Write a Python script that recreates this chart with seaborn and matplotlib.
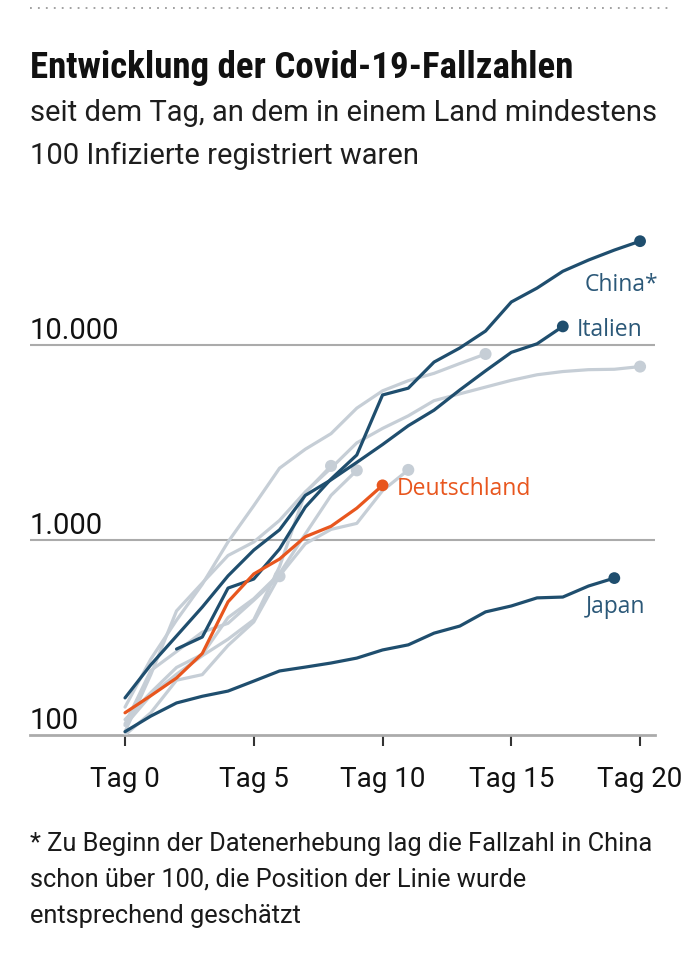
import numpy as np
import pandas as pd
import matplotlib
matplotlib.use("Agg")
import matplotlib.pyplot as plt
import matplotlib.transforms as mtransforms
from matplotlib.lines import Line2D
import seaborn as sns

# ---------------- data ----------------
china_days = list(range(2, 21))
china_cases = [276, 318, 567, 631, 900, 1475, 2055, 2730, 5545, 6010, 8180,
               9660, 11800, 16630, 19600, 23900, 27300, 30700, 34100]

italien_days = list(range(0, 18))
italien_cases = [155, 229, 322, 453, 655, 888, 1128, 1694, 2036, 2502, 3089,
                 3858, 4636, 5883, 7375, 9172, 10149, 12462]

japan_days = list(range(0, 20))
japan_cases = [104, 125, 146, 158, 168, 189, 213, 223, 234, 248, 273, 290,
               333, 362, 428, 459, 505, 510, 581, 638]

deutschland_days = list(range(0, 11))
deutschland_cases = [130, 159, 196, 262, 482, 670, 799, 1040, 1176, 1457, 1908]

korea_days = list(range(0, 21))
korea_cases = [104, 204, 433, 602, 833, 977, 1261, 1766, 2337, 3150, 3736,
               4335, 5186, 5621, 6088, 6593, 7041, 7314, 7478, 7513, 7755]

iran_days = list(range(0, 15))
iran_cases = [139, 245, 388, 593, 978, 1501, 2336, 2922, 3513, 4747, 5823,
              6566, 7161, 8042, 9000]

frankreich_days = list(range(0, 12))
frankreich_cases = [100, 130, 191, 204, 288, 380, 656, 957, 1134, 1217, 1792, 2289]

spanien_days = list(range(0, 10))
spanien_cases = [120, 165, 222, 259, 400, 500, 673, 1073, 1695, 2277]

land_x_days = list(range(0, 9))
land_x_cases = [112, 160, 205, 255, 310, 390, 730, 1750, 2400]

schweiz_days = list(range(0, 7))
schweiz_cases = [114, 214, 268, 337, 374, 491, 652]

x_ticks = [0, 5, 10, 15, 20]
x_tick_labels = ["Tag 0", "Tag 5", "Tag 10", "Tag 15", "Tag 20"]
y_levels = [100, 1000, 10000]
y_labels = ["100", "1.000", "10.000"]

highlight_names = ["Japan", "Italien", "China", "Deutschland"]
label_texts = {"China": "China*", "Italien": "Italien",
               "Deutschland": "Deutschland", "Japan": "Japan"}

series = {
    "Südkorea": (korea_days, korea_cases),
    "Iran": (iran_days, iran_cases),
    "Frankreich": (frankreich_days, frankreich_cases),
    "Spanien": (spanien_days, spanien_cases),
    "Land X": (land_x_days, land_x_cases),
    "Schweiz": (schweiz_days, schweiz_cases),
    "Japan": (japan_days, japan_cases),
    "Italien": (italien_days, italien_cases),
    "China": (china_days, china_cases),
    "Deutschland": (deutschland_days, deutschland_cases),
}

rows = []
for name, (d, c) in series.items():
    for di, ci in zip(d, c):
        rows.append({"land": name, "tag": di, "faelle": ci,
                     "hervor": name in highlight_names})
df = pd.DataFrame(rows)

# ---------------- style ----------------
DARK = "#1f4e6e"
DARK_TXT = "#2b5878"
ORANGE = "#e8561e"
GREY = "#c6ced6"
GRID = "#ababab"

palette = {"Japan": DARK, "Italien": DARK, "China": DARK, "Deutschland": ORANGE}
text_colors = {"China": DARK_TXT, "Italien": DARK_TXT, "Japan": DARK_TXT,
               "Deutschland": ORANGE}

sns.set_theme(style="white")
NARROW = ["Roboto", "DejaVu Sans"]
LABELF = ["Open Sans", "DejaVu Sans"]
TITLEF = ["Roboto Condensed", "Roboto", "DejaVu Sans"]
plt.rcParams["font.family"] = NARROW

fig = plt.figure(figsize=(7.0, 9.6), dpi=100)
H = 960.0
W = 700.0

ax_left, ax_right = 30 / W, 655 / W
ax_bottom, ax_top = 1 - 735 / H, 1 - 200 / H
ax = fig.add_axes([ax_left, ax_bottom, ax_right - ax_left, ax_top - ax_bottom])

LW = 2.3

# grey context lines
grey_df = df[~df["hervor"]]
sns.lineplot(data=grey_df, x="tag", y="faelle", units="land", estimator=None,
             color=GREY, lw=LW, ax=ax, legend=False, zorder=3,
             solid_capstyle="round", solid_joinstyle="round")
last_grey = grey_df.groupby("land").tail(1)
sns.scatterplot(data=last_grey, x="tag", y="faelle", color=GREY, s=75,
                edgecolor="none", ax=ax, legend=False, zorder=3)

# highlighted lines
hi_df = df[df["hervor"]]
for name in highlight_names:
    sub = hi_df[hi_df["land"] == name]
    sns.lineplot(data=sub, x="tag", y="faelle", color=palette[name], lw=LW,
                 ax=ax, legend=False, zorder=4 if name != "Deutschland" else 5,
                 solid_capstyle="round", solid_joinstyle="round")
last_hi = hi_df.groupby("land").tail(1)
sns.scatterplot(data=last_hi, x="tag", y="faelle", hue="land", palette=palette,
                s=72, edgecolor="none", ax=ax, legend=False, zorder=6)

ax.set_yscale("log")
ax.set_ylim(100, 10 ** 4.744)
ax.set_xlim(-3.69, 20.58)

for s in ["top", "right", "left"]:
    ax.spines[s].set_visible(False)
ax.spines["bottom"].set_color(GRID)
ax.spines["bottom"].set_linewidth(2.0)
ax.spines["bottom"].set_zorder(2)

for lv in y_levels[1:]:
    ax.axhline(lv, color=GRID, lw=1.5, zorder=1)

ax.yaxis.set_major_locator(matplotlib.ticker.NullLocator())
ax.yaxis.set_minor_locator(matplotlib.ticker.NullLocator())
ax.set_xticks(x_ticks)
ax.set_xticklabels(x_tick_labels)
ax.tick_params(axis="x", direction="out", length=8, width=1.5, color="#333333",
               pad=14, labelsize=20, labelcolor="#111111", bottom=True)
ax.set_xlabel("")
ax.set_ylabel("")

blend = mtransforms.blended_transform_factory(ax.transAxes, ax.transData)
for lv, lab in zip(y_levels, y_labels):
    ax.annotate(lab, xy=(0, lv), xycoords=blend, xytext=(0, 6),
                textcoords="offset pixels", ha="left", va="baseline",
                fontsize=21, color="#111111", family=NARROW)

label_offsets = {"China": (-55, -44), "Italien": (14, -4),
                 "Deutschland": (14, -4), "Japan": (-28, -29)}
for name in highlight_names:
    d, c = series[name]
    ax.annotate(label_texts[name], xy=(d[-1], c[-1]), xycoords="data",
                xytext=label_offsets[name], textcoords="offset pixels",
                ha="left", va="center", fontsize=16.5, color=text_colors[name],
                family=LABELF)

# ---------------- texts ----------------
fig.add_artist(Line2D([30 / W, 672 / W], [1 - 8 / H, 1 - 8 / H],
                      transform=fig.transFigure, color="#9a9a9a", lw=1.3,
                      linestyle=(0, (1, 3.4))))

fig.text(30 / W, 1 - 78 / H, "Entwicklung der Covid-19-Fallzahlen",
         fontsize=26.6, fontweight="bold", color="#111111", ha="left",
         va="baseline", family=TITLEF)
fig.text(30 / W, 1 - 121 / H, "seit dem Tag, an dem in einem Land mindestens",
         fontsize=21, color="#1e1e1e", ha="left", va="baseline", family=NARROW)
fig.text(30 / W, 1 - 164 / H, "100 Infizierte registriert waren",
         fontsize=21, color="#1e1e1e", ha="left", va="baseline", family=NARROW)

foot = ["* Zu Beginn der Datenerhebung lag die Fallzahl in China",
        "schon über 100, die Position der Linie wurde",
        "entsprechend geschätzt"]
for i, line in enumerate(foot):
    fig.text(30 / W, 1 - (851 + i * 36) / H, line, fontsize=18.3,
             color="#1a1a1a", ha="left", va="baseline", family=NARROW)

fig.savefig("out.png", dpi=100, facecolor="white")
